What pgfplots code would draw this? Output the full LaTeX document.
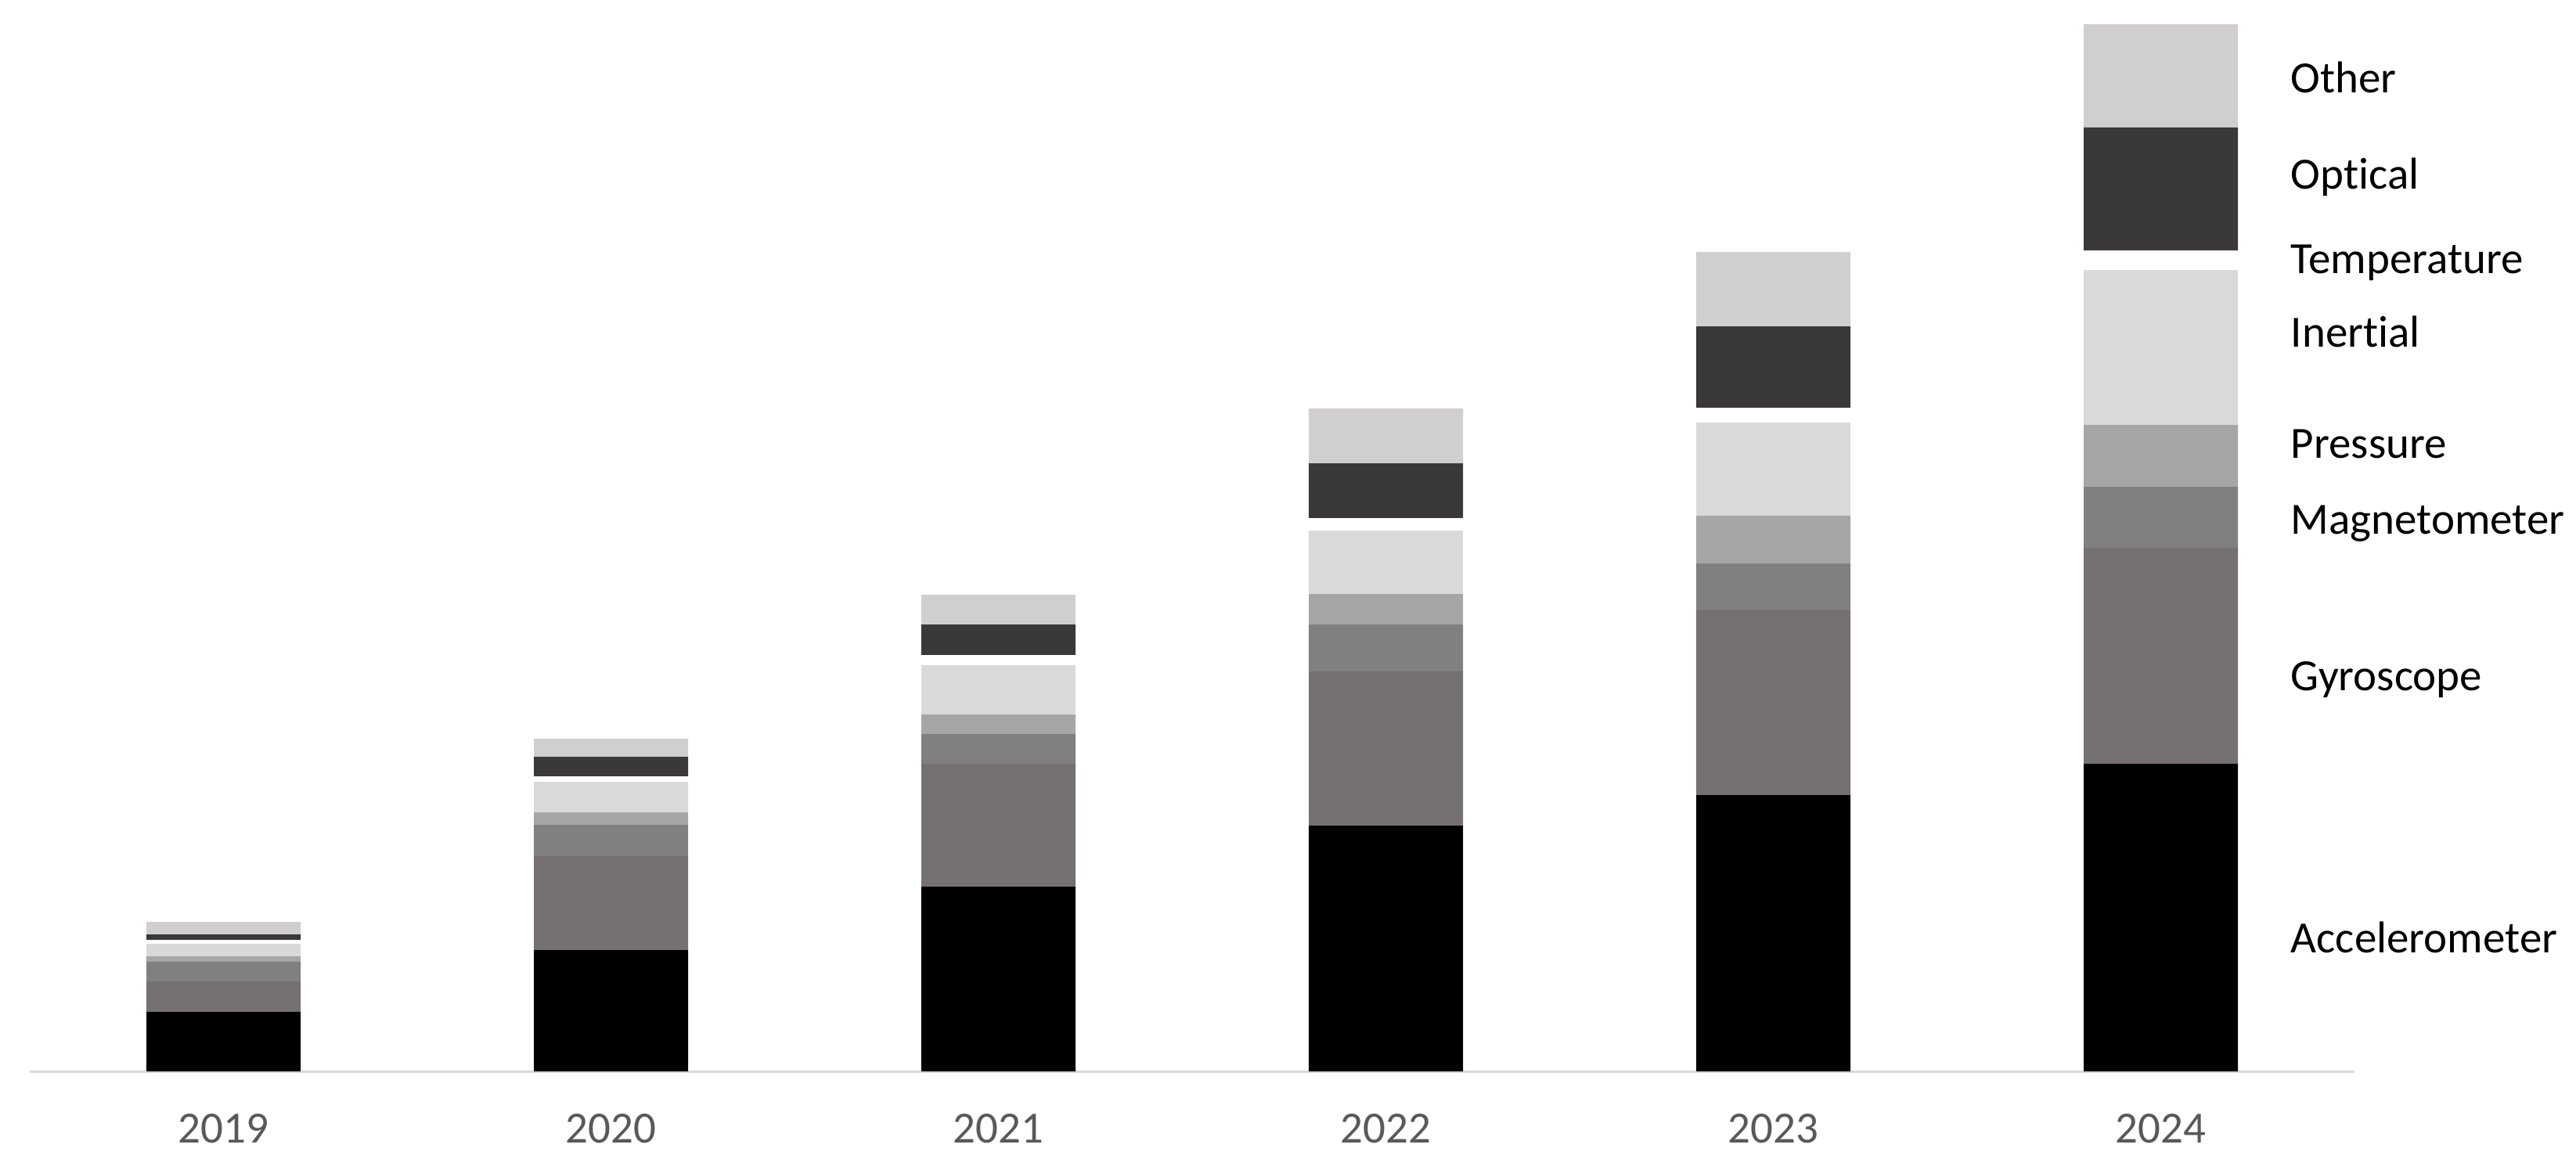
\documentclass[border=0pt]{standalone}
\usepackage{pgfplots}
\pgfplotsset{compat=1.18}
\usepackage{fontspec}
\setmainfont[Ligatures=NoCommon]{Carlito}
\definecolor{cAcc}{HTML}{000000}
\definecolor{cGyr}{HTML}{767171}
\definecolor{cMag}{HTML}{808080}
\definecolor{cPre}{HTML}{A6A6A6}
\definecolor{cIne}{HTML}{D9D9D9}
\definecolor{cTem}{HTML}{FFFFFF}
\definecolor{cOpt}{HTML}{3A3838}
\definecolor{cOth}{HTML}{D0CECE}
\definecolor{cTick}{HTML}{595959}
\definecolor{cAxis}{HTML}{D9D9D9}
\tikzset{lbl/.style={anchor=west, inner sep=0pt, font=\fontsize{11.4}{13}\selectfont}}
\begin{document}
\begin{tikzpicture}
\path[use as bounding box] (0,0) rectangle (658.2pt,297.8pt);
\begin{axis}[
  at={(7.6pt,24pt)}, anchor=south west,
  scale only axis, width=594pt, height=273.8pt,
  xmin=-0.5, xmax=5.5, ymin=0, ymax=1369,
  ybar stacked, bar width=39.4pt,
  axis x line=bottom, axis y line=none,
  x axis line style={draw=cAxis, line width=0.6pt, -},
  xtick={0,1,2,3,4,5},
  xticklabels={2019,2020,2021,2022,2023,2024},
  major tick length=0pt,
  xticklabel style={font=\fontsize{11.4}{13}\selectfont, text=cTick, yshift=-7.4pt},
  clip=false,
]
\addplot[fill=cAcc, draw=none] coordinates {(0,76) (1,155) (2,236) (3,314) (4,353) (5,393)};
\addplot[fill=cGyr, draw=none] coordinates {(0,39) (1,120) (2,157) (3,197) (4,237) (5,276)};
\addplot[fill=cMag, draw=none] coordinates {(0,25) (1,40) (2,38) (3,60) (4,59) (5,78)};
\addplot[fill=cPre, draw=none] coordinates {(0,7) (1,16) (2,25) (3,39) (4,61) (5,79)};
\addplot[fill=cIne, draw=none] coordinates {(0,16) (1,39) (2,63) (3,81) (4,119) (5,198)};
\addplot[fill=cTem, draw=none] coordinates {(0,5) (1,7) (2,13) (3,16) (4,19) (5,25)};
\addplot[fill=cOpt, draw=none] coordinates {(0,7) (1,25) (2,39) (3,70) (4,104) (5,157)};
\addplot[fill=cOth, draw=none] coordinates {(0,16) (1,23) (2,38) (3,70) (4,95) (5,132)};
\node[lbl] at (axis cs:5.334,1270) {Other};
\node[lbl] at (axis cs:5.334,1143) {Optical};
\node[lbl] at (axis cs:5.334,1033) {Temperature};
\node[lbl] at (axis cs:5.334,945) {Inertial};
\node[lbl] at (axis cs:5.334,802) {Pressure};
\node[lbl] at (axis cs:5.334,700) {Magnetometer};
\node[lbl] at (axis cs:5.334,500) {Gyroscope};
\node[lbl] at (axis cs:5.334,171) {Accelerometer};
\end{axis}
\end{tikzpicture}
\end{document}
